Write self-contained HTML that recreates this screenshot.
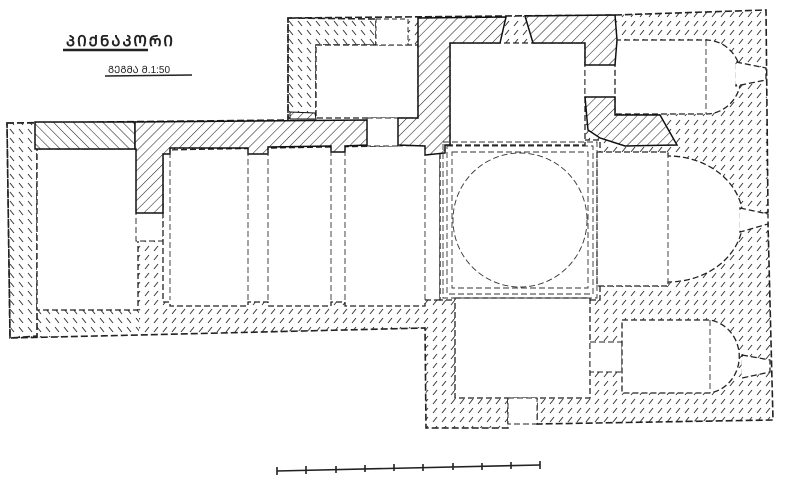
<!DOCTYPE html>
<html><head><meta charset="utf-8"><style>html,body{margin:0;padding:0;background:#fff}svg{display:block}</style></head>
<body>
<svg width="800" height="489" viewBox="0 0 800 489" xmlns="http://www.w3.org/2000/svg">
<defs>
<pattern id="dh" width="9" height="9" patternUnits="userSpaceOnUse">
<rect width="9" height="9" fill="#fff"/>
<line x1="1" y1="8" x2="5" y2="3" stroke="#333" stroke-width="1"/>
</pattern>
<pattern id="sh" width="7" height="7" patternUnits="userSpaceOnUse" patternTransform="rotate(45)">
<rect width="7" height="7" fill="#fff"/>
<line x1="0" y1="0" x2="0" y2="7" stroke="#222" stroke-width="1.1"/>
</pattern>
<pattern id="bh" width="7" height="7" patternUnits="userSpaceOnUse" patternTransform="rotate(-45)">
<rect width="7" height="7" fill="#fff"/>
<line x1="0" y1="0" x2="0" y2="7" stroke="#222" stroke-width="1.1"/>
</pattern>
<pattern id="dhb" width="9" height="9" patternUnits="userSpaceOnUse">
<rect width="9" height="9" fill="#fff"/>
<line x1="1" y1="3" x2="5" y2="8" stroke="#333" stroke-width="1"/>
</pattern>
</defs>
<rect width="800" height="489" fill="#fff"/>
<text x="66" y="46" font-family="'Liberation Sans','DejaVu Sans',sans-serif" font-size="15" font-weight="bold" fill="#222" letter-spacing="2">ᲞᲘᲥᲜᲐᲙᲝᲠᲘ</text>
<line x1="63" y1="50" x2="148" y2="50" stroke="#222" stroke-width="2.5"/>
<text x="108" y="73" font-family="'Liberation Sans','DejaVu Sans',sans-serif" font-size="10" fill="#222">ᲒᲔᲒᲛᲐ  Მ.1:50</text>
<line x1="105" y1="76" x2="192" y2="75" stroke="#222" stroke-width="1.5"/>

<g stroke="#222" stroke-width="1.6" stroke-dasharray="7,3" fill="url(#dh)">
<path d="M7,123 L288,120 L288,18 L615,15 L766,10 L768,212 L744,220 L768,223 L773,420 L537,424 L537,398 L508,398 L508,428 L426,428 L425,328 L139,335 L10,338 Z"/>
</g>
<path d="M8,124 L37,123 L37,336 L11,337 Z" fill="url(#dhb)"/>
<path d="M37,310 L139,310 L139,334 L37,336 Z" fill="url(#dhb)"/>
<path d="M289,19 L376,19 L376,45 L316,45 L316,118 L289,118 Z" fill="url(#dhb)"/>
<path d="M7,123 L37,123 L37,336 L10,338 Z M288,18 L376,19 L376,45 L316,45 L316,118 L288,118 Z" fill="none" stroke="#222" stroke-width="1.6" stroke-dasharray="7,3"/>

<g fill="#fff" stroke="#222" stroke-width="1.3" stroke-dasharray="6,3">
<rect x="37" y="149" width="101" height="161"/>
<rect x="316" y="45" width="102" height="73"/>
<rect x="376" y="19" width="32" height="26" stroke-dasharray="5,3" stroke-width="0.9"/>
<rect x="136" y="213" width="27" height="28" stroke-width="0.9"/>
<path d="M163,150 L440,145 L440,300 L425,300 L425,306 L345,306 L345,302 L331,302 L331,306 L268,306 L268,302 L248,302 L248,306 L170,306 L170,302 L163,302 Z"/>
<rect x="440" y="140" width="160" height="160"/>
<path d="M597,152 L668,152 L668,156 A75,63 0 0 1 668,282 L668,286 L597,286 Z"/>
<rect x="367" y="118" width="33" height="28" stroke-width="0.9"/>
<rect x="450" y="43" width="135" height="102"/>
<rect x="585" y="65" width="32" height="32" stroke-width="0.9"/>
<path d="M615,40 L706,40 A35,37 0 0 1 706,114 L615,114 Z"/>
<rect x="455" y="298" width="135" height="100"/>
<rect x="590" y="342" width="32" height="30" stroke-width="0.9"/>
<path d="M622,320 L710,320 A35,37 0 0 1 710,393 L622,393 Z"/>
<rect x="508" y="398" width="29" height="26" stroke-width="0.9"/>
</g>
<g fill="#fff" stroke="#222" stroke-width="1.3" stroke-dasharray="6,3">
<path d="M736,62 L766,68 L766,80 L736,86 Z"/>
<path d="M740,208 L768,214 L768,224 L740,232 Z"/>
<path d="M742,355 L770,360 L770,372 L742,378 Z"/>
</g>
<path d="M737,64 L737,84 M741,210 L741,230 M743,357 L743,376" stroke="#fff" stroke-width="3"/>
<g stroke="#333" stroke-width="0.9" stroke-dasharray="6,3">
<line x1="706" y1="40" x2="706" y2="114"/>
<line x1="668" y1="152" x2="668" y2="286"/>
<line x1="710" y1="320" x2="710" y2="393"/>
</g>

<g stroke="#111" stroke-width="1.5">
<path d="M35,122 L135,122 L135,149 L35,149 Z" fill="url(#bh)"/>
<path d="M135,122 L367,120 L367,145 L345,146 L345,152 L331,152 L331,146 L268,147 L268,154 L248,154 L248,148 L170,148 L170,154 L163,154 L163,213 L136,213 L136,149 L135,149 Z" fill="url(#sh)"/>
<path d="M418,18 L506,17 L500,43 L450,43 L450,145 L445,145 L445,153 L425,155 L425,146 L398,145 L398,118 L418,118 Z" fill="url(#sh)"/>
<path d="M525,16 L615,15 L617,40 L615,65 L585,65 L585,43 L533,43 Z" fill="url(#sh)"/>
<path d="M585,97 L615,97 L615,115 L660,115 L677,145 L625,146 L600,138 L588,130 Z" fill="url(#sh)"/>
<path d="M290,112 L315,113 L316,119 L290,119 Z" fill="url(#sh)" stroke-width="1"/>
</g>

<g fill="none" stroke="#333" stroke-width="0.9" stroke-dasharray="6,3">
<rect x="443" y="142" width="154" height="156"/>
<rect x="447" y="146" width="146" height="148"/>
<rect x="452" y="152" width="136" height="136"/>
<line x1="425" y1="150" x2="425" y2="300"/>
<line x1="345" y1="150" x2="345" y2="302"/>
<line x1="331" y1="150" x2="331" y2="302"/>
<line x1="268" y1="150" x2="268" y2="302"/>
<line x1="248" y1="150" x2="248" y2="302"/>
<line x1="170" y1="152" x2="170" y2="300"/>
<circle cx="520" cy="220" r="67"/>
</g>

<g stroke="#222" stroke-width="1.6">
<line x1="277" y1="471" x2="540" y2="465"/>
<line x1="277" y1="467" x2="277" y2="475"/>
<line x1="306" y1="466" x2="306" y2="474"/>
<line x1="336" y1="466" x2="336" y2="473"/>
<line x1="365" y1="465" x2="365" y2="472"/>
<line x1="394" y1="464" x2="394" y2="471"/>
<line x1="423" y1="464" x2="423" y2="471"/>
<line x1="453" y1="463" x2="453" y2="470"/>
<line x1="482" y1="463" x2="482" y2="470"/>
<line x1="511" y1="462" x2="511" y2="469"/>
<line x1="540" y1="461" x2="540" y2="469"/>
</g>
</svg>
</body></html>
